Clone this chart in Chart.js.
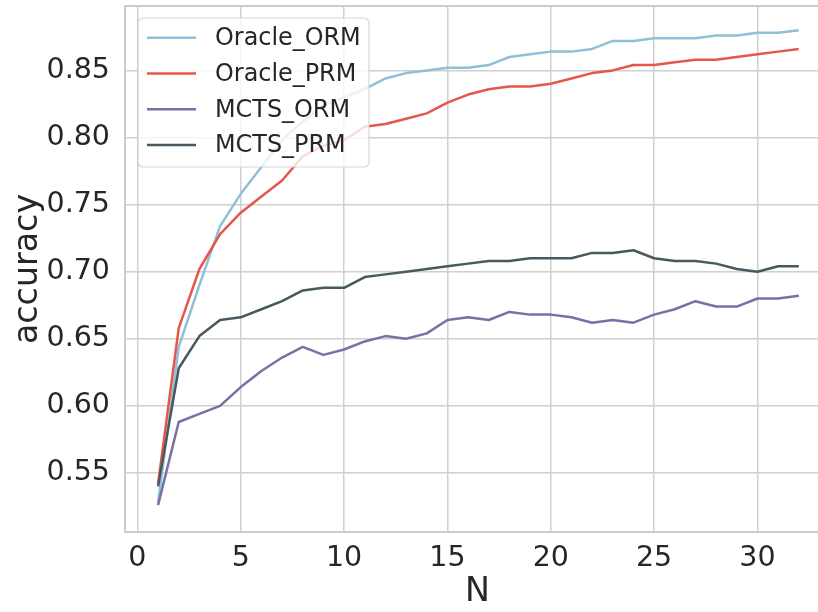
<!DOCTYPE html>
<html>
<head>
<meta charset="utf-8">
<script src="https://cdn.jsdelivr.net/npm/chart.js@4.4.1/dist/chart.umd.min.js"></script>
<style>
  html, body { margin: 0; padding: 0; background: #fff; overflow: hidden; }
  #wrap { width: 830px; height: 612px; }
</style>
</head>
<body>
<div id="wrap"><canvas id="chart" width="830" height="612"></canvas></div>
<script>
const N = [1, 2, 3, 4, 5, 6, 7, 8, 9, 10, 11, 12, 13, 14, 15, 16,
           17, 18, 19, 20, 21, 22, 23, 24, 25, 26, 27, 28, 29, 30, 31, 32];

const oracleORM = [0.528, 0.644, 0.690, 0.734, 0.758, 0.778, 0.798, 0.812, 0.824, 0.830, 0.836,
                   0.844, 0.848, 0.850, 0.852, 0.852, 0.854, 0.860, 0.862, 0.864, 0.864, 0.866,
                   0.872, 0.872, 0.874, 0.874, 0.874, 0.876, 0.876, 0.878, 0.878, 0.880];
const oraclePRM = [0.542, 0.658, 0.702, 0.728, 0.744, 0.756, 0.768, 0.786, 0.794, 0.798, 0.808,
                   0.810, 0.814, 0.818, 0.826, 0.832, 0.836, 0.838, 0.838, 0.840, 0.844, 0.848,
                   0.850, 0.854, 0.854, 0.856, 0.858, 0.858, 0.860, 0.862, 0.864, 0.866];
const mctsORM = [0.526, 0.588, 0.594, 0.600, 0.614, 0.626, 0.636, 0.644, 0.638, 0.642, 0.648,
                 0.652, 0.650, 0.654, 0.664, 0.666, 0.664, 0.670, 0.668, 0.668, 0.666, 0.662,
                 0.664, 0.662, 0.668, 0.672, 0.678, 0.674, 0.674, 0.680, 0.680, 0.682];
const mctsPRM = [0.540, 0.628, 0.652, 0.664, 0.666, 0.672, 0.678, 0.686, 0.688, 0.688, 0.696,
                 0.698, 0.700, 0.702, 0.704, 0.706, 0.708, 0.708, 0.710, 0.710, 0.710, 0.714,
                 0.714, 0.716, 0.710, 0.708, 0.708, 0.706, 0.702, 0.700, 0.704, 0.704];

const seriesNames = ['Oracle_ORM', 'Oracle_PRM', 'MCTS_ORM', 'MCTS_PRM'];
const seriesColors = ['#8fbfd9', '#e5574b', '#7b6fa6', '#47595f'];
const xTicks = [0, 5, 10, 15, 20, 25, 30];
const yTicks = [0.55, 0.60, 0.65, 0.70, 0.75, 0.80, 0.85];

const FONT = 'DejaVu Sans';
const TEXT = '#262626';
const GRID = '#d0d0d0';

const allSeries = [oracleORM, oraclePRM, mctsORM, mctsPRM];

// legend drawn inside the plot, like matplotlib's upper-left legend
const innerLegend = {
  id: 'innerLegend',
  afterDatasetsDraw(chart) {
    const ctx = chart.ctx;
    const x = 138, y = 18, w = 231, h = 149, r = 5;
    ctx.save();
    ctx.beginPath();
    ctx.roundRect(x, y, w, h, r);
    ctx.fillStyle = 'rgba(255,255,255,0.8)';
    ctx.fill();
    ctx.strokeStyle = 'rgba(204,204,204,0.8)';
    ctx.lineWidth = 1.2;
    ctx.stroke();
    chart.data.datasets.forEach((ds, i) => {
      const cy = 37.7 + i * 35.8;
      ctx.beginPath();
      ctx.moveTo(147, cy);
      ctx.lineTo(196, cy);
      ctx.strokeStyle = ds.borderColor;
      ctx.lineWidth = 2.5;
      ctx.stroke();
      ctx.fillStyle = TEXT;
      ctx.font = '23.9px "' + FONT + '"';
      ctx.textBaseline = 'middle';
      ctx.textAlign = 'left';
      ctx.fillText(ds.label, 215, cy + 1);
    });
    ctx.restore();
  },
  afterDraw(chart) {
    // top spine
    const { left, right, top } = chart.chartArea;
    const ctx = chart.ctx;
    ctx.save();
    ctx.beginPath();
    ctx.moveTo(left, top);
    ctx.lineTo(right, top);
    ctx.strokeStyle = '#cccccc';
    ctx.lineWidth = 2;
    ctx.stroke();
    ctx.restore();
  }
};

new Chart(document.getElementById('chart'), {
  type: 'line',
  data: {
    datasets: allSeries.map((vals, i) => ({
      label: seriesNames[i],
      data: N.map((n, j) => ({ x: n, y: vals[j] })),
      borderColor: seriesColors[i],
      backgroundColor: seriesColors[i],
      borderWidth: 2.5,
      pointRadius: 0,
      tension: 0,
      borderJoinStyle: 'round',
      order: 3 - i,
    })),
  },
  options: {
    responsive: false,
    animation: false,
    devicePixelRatio: 1,
    layout: { padding: { top: 6, left: 0, right: 0, bottom: 0 } },
    plugins: {
      legend: { display: false },
      tooltip: { enabled: false },
    },
    scales: {
      x: {
        type: 'linear',
        min: -0.6,
        max: 33.51,
        afterFit: (s) => { s.height = 80; s.paddingLeft = 0; s.paddingRight = 0; },
        afterBuildTicks: (s) => { s.ticks = xTicks.map((v) => ({ value: v })); },
        grid: { color: GRID, lineWidth: 1.5, drawTicks: false },
        border: { color: '#cccccc', width: 2 },
        ticks: {
          padding: 9,
          color: TEXT,
          font: { family: FONT, size: 28.5 },
          maxRotation: 0,
          autoSkip: false,
        },
        title: {
          display: true,
          text: 'N',
          color: TEXT,
          font: { family: FONT, size: 33.3 },
          padding: { top: 0, bottom: 0 },
        },
      },
      y: {
        min: 0.506,
        max: 0.898,
        afterFit: (s) => { s.width = 125; s.paddingTop = 0; s.paddingBottom = 0; },
        afterBuildTicks: (s) => { s.ticks = yTicks.map((v) => ({ value: v })); },
        grid: { color: GRID, lineWidth: 1.5, drawTicks: false },
        border: { color: '#cccccc', width: 2 },
        ticks: {
          padding: 15,
          color: TEXT,
          font: { family: FONT, size: 28.5 },
          callback: (v) => v.toFixed(2),
        },
        title: {
          display: true,
          text: 'accuracy',
          color: TEXT,
          font: { family: FONT, size: 33.3 },
          padding: { top: 8, bottom: 0 },
        },
      },
    },
  },
  plugins: [innerLegend],
});
</script>
</body>
</html>
